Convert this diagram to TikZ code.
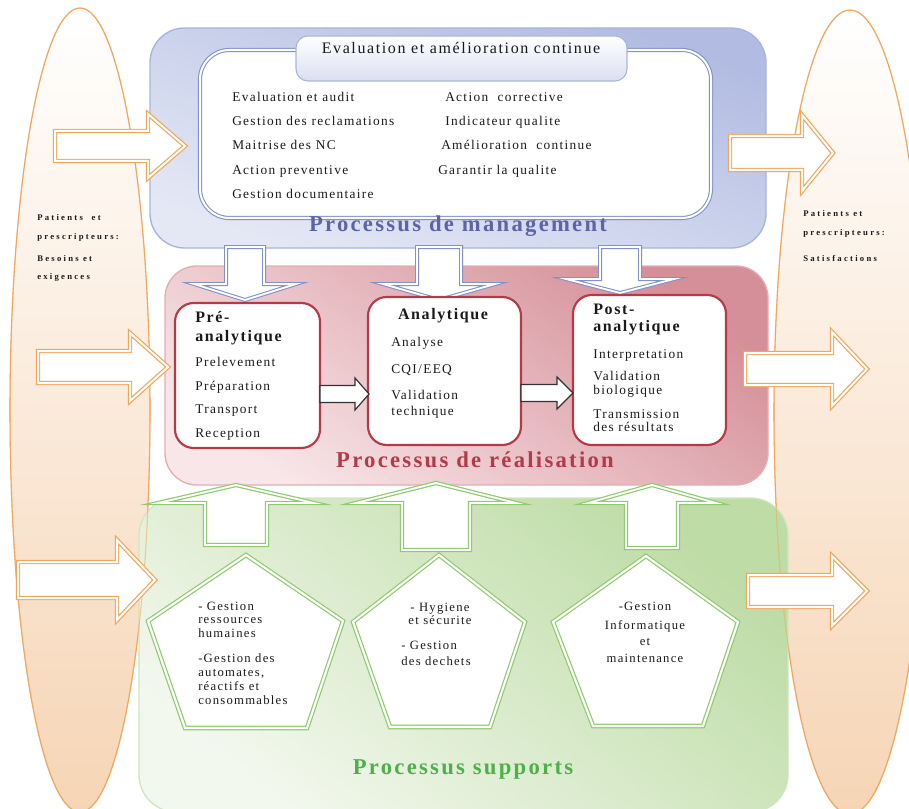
\documentclass[tikz,border=0pt]{standalone}
\usepackage{fontspec}
\setmainfont{Liberation Serif}[LetterSpace=10]
\definecolor{orgL}{HTML}{F2A65A}
\definecolor{peach}{HTML}{F6D5B5}
\definecolor{cream}{HTML}{FCF4EA}
\definecolor{bluB}{HTML}{8290CC}
\definecolor{bluT}{HTML}{B2BCE2}
\definecolor{bluL}{HTML}{E4E8F5}
\definecolor{bluE}{HTML}{A9B4DC}
\definecolor{pnkT}{HTML}{D58F98}
\definecolor{pnkL}{HTML}{F8E6E8}
\definecolor{pnkE}{HTML}{E2AEB4}
\definecolor{redB}{HTML}{B53A48}
\definecolor{grnB}{HTML}{8FCB6E}
\definecolor{grnT}{HTML}{BEDCA6}
\definecolor{grnL}{HTML}{F3F8EE}
\definecolor{grnE}{HTML}{CFE6C0}
\definecolor{ttlB}{HTML}{5C64A6}
\definecolor{ttlR}{HTML}{B23A4A}
\definecolor{ttlG}{HTML}{4DB04A}
\definecolor{txt}{HTML}{1A1A1A}
% right-pointing block arrow: tail x, head base x, tip x, centre y, shaft half, head half
\newcommand\ArrR[6]{(#1,#4-#5) -- (#2,#4-#5) -- (#2,#4-#6) -- (#3,#4) -- (#2,#4+#6) -- (#2,#4+#5) -- (#1,#4+#5) -- cycle}
% vertical block arrow: centre x, tail y, head base y, tip y, shaft half, head half
\newcommand\ArrV[6]{(#1-#5,#2) -- (#1-#5,#3) -- (#1-#6,#3) -- (#1,#4) -- (#1+#6,#3) -- (#1+#5,#3) -- (#1+#5,#2) -- cycle}
\tikzset{
  oarrow/.style={draw=orgL, line width=0.9pt, double=white, double distance=1.5pt, fill=white, line join=miter},
  barrow/.style={draw=bluB, line width=0.8pt, double=white, double distance=1.4pt, fill=white},
  garrow/.style={draw=grnB, line width=0.9pt, double=white, double distance=1.4pt, fill=white},
  karrow/.style={draw=black!80, line width=0.9pt, fill=white},
  penta/.style={draw=grnB, line width=0.9pt, double=white, double distance=1.6pt, fill=white},
  redbox/.style={draw=redB, line width=1.6pt, fill=white, rounded corners=14},
  txtw/.style={anchor=base west, inner sep=0, yshift=-2.4pt},
  txtc/.style={anchor=base, inner sep=0, yshift=-2.4pt},
  item/.style={txtw, text=txt, font=\fontsize{10}{12}\selectfont},
  pitem/.style={inner sep=0, text=txt, font=\fontsize{9.5}{11}\selectfont},
  head/.style={inner sep=0, text=txt, font=\fontsize{12}{14}\selectfont\bfseries},
  big/.style={txtc, yshift=-1.6pt, font=\fontsize{17}{20}\selectfont\bfseries},
  side/.style={txtw, yshift=0.9pt, text=txt, font=\fontsize{6.5}{8}\selectfont\bfseries\addfontfeature{LetterSpace=26}},
}
\begin{document}
\begin{tikzpicture}[x=0.75pt, y=-0.75pt]
\useasboundingbox (0,0) rectangle (909,809);
\fill[white] (0,0) rectangle (909,809);

% side ellipses
\shade[top color=white, middle color=cream, bottom color=peach] (80,410) ellipse [x radius=70, y radius=402];
\shade[top color=white, middle color=cream, bottom color=peach] (850,412) ellipse [x radius=76, y radius=402];
\draw[orgL, line width=0.8pt] (80,410) ellipse [x radius=70, y radius=402];
\draw[orgL, line width=0.8pt] (850,412) ellipse [x radius=76, y radius=402];

% three process areas
\path[draw=bluE, line width=1pt, rounded corners=26, top color=bluT, bottom color=bluL, shading angle=-20] (150,28) rectangle (766,248);
\path[draw=pnkE, line width=1pt, rounded corners=24, top color=pnkT, bottom color=pnkL, shading angle=-35] (165,266) rectangle (768,485);
\path[draw=grnE, line width=1pt, rounded corners=28, top color=grnT, bottom color=grnL, shading angle=-40] (139,498) rectangle (788,812);

% ellipse borders faintly over boxes
\draw[orgL, line width=0.8pt, opacity=0.55] (80,410) ellipse [x radius=70, y radius=402];
\draw[orgL, line width=0.8pt, opacity=0.55] (850,412) ellipse [x radius=76, y radius=402];

% management inner box and title tab
\draw[draw=bluB, line width=0.8pt, double=white, double distance=1.5pt, fill=white, rounded corners=22] (200,50) rectangle (711,218);
\path[draw=bluE, line width=0.8pt, rounded corners=9, top color=white, bottom color=bluL!80!bluT] (296,36) rectangle (627,81);
\node[txtc, text=txt, font=\fontsize{12}{14}\selectfont] (ttl) at (461,50) {Evaluation et amélioration continue};

\node[item] (m1) at (232,98) {Evaluation et audit};
\node[item] (m2) at (232,122) {Gestion des reclamations};
\node[item] (m3) at (232,146) {Maitrise des NC};
\node[item] (m4) at (232,171) {Action preventive};
\node[item] (m5) at (232,195) {Gestion documentaire};
\node[item] (m6) at (445,98) {Action\ \ corrective};
\node[item] (m7) at (445,122) {Indicateur qualite};
\node[item] (m8) at (441,146) {Amélioration\ \ continue};
\node[item] (m9) at (438,171) {Garantir la qualite};
\node[big, text=ttlB] (tM) at (458,226) {Processus de management};

% blue arrows down
\draw[barrow] \ArrV{245}{247}{284}{300}{19}{51};
\draw[barrow] \ArrV{439}{247}{284}{300}{22}{56};
\draw[barrow] \ArrV{620}{247}{279}{293}{20}{54};

% realisation boxes
\draw[redbox] (175,303) rectangle (320,448);
\draw[redbox] (368,297) rectangle (521,445);
\draw[redbox] (573,295) rectangle (726,445);

\node[head, txtw, yshift=-0.6pt] (b1a) at (195,318) {Pré-};
\node[head, txtw, yshift=-0.6pt] (b1b) at (195,337) {analytique};
\node[item] (b1c) at (195,363) {Prelevement};
\node[item] (b1d) at (195,387) {Préparation};
\node[item] (b1e) at (195,410) {Transport};
\node[item] (b1f) at (195,434) {Reception};

\node[head, txtc, yshift=-0.6pt] (b2a) at (443,315) {Analytique};
\node[item] (b2b) at (391,343) {Analyse};
\node[item] (b2c) at (391,370) {CQI/EEQ};
\node[item] (b2d) at (391,396) {Validation};
\node[item] (b2e) at (391,412) {technique};

\node[head, txtw, yshift=-0.6pt] (b3a) at (593,310) {Post-};
\node[head, txtw, yshift=-0.6pt] (b3b) at (593,327) {analytique};
\node[item] (b3c) at (593,355) {Interpretation};
\node[item] (b3d) at (593,377) {Validation};
\node[item] (b3e) at (593,391) {biologique};
\node[item] (b3f) at (593,415) {Transmission};
\node[item] (b3g) at (593,428) {des résultats};

\draw[karrow] \ArrR{320}{355}{369}{394}{8.5}{16};
\draw[karrow] \ArrR{521}{557}{573}{393}{8.5}{16};

\node[big, text=ttlR] (tR) at (475,462) {Processus de réalisation};

% green arrows up
\draw[garrow] \ArrV{236}{545}{503}{485}{31}{78};
\draw[garrow] \ArrV{436}{550}{503}{483}{34}{80};
\draw[garrow] \ArrV{652}{548}{503}{485}{26}{64};

% pentagons
\draw[penta] (246,555) -- (343,621) -- (307,728) -- (185,728) -- (148,621) -- cycle;
\draw[penta] (439,555) -- (525,622) -- (490,727) -- (390,727) -- (353,622) -- cycle;
\draw[penta] (646,556) -- (738,622) -- (703,726) -- (593,726) -- (553,622) -- cycle;

\node[pitem, txtw, yshift=-0.2pt] (p1a) at (198,607) {- Gestion};
\node[pitem, txtw, yshift=-0.2pt] (p1b) at (198,620) {ressources};
\node[pitem, txtw, yshift=-0.2pt] (p1c) at (198,634) {humaines};
\node[pitem, txtw, yshift=-0.2pt] (p1d) at (198,659) {-Gestion des};
\node[pitem, txtw, yshift=-0.2pt] (p1e) at (198,673) {automates,};
\node[pitem, txtw, yshift=-0.2pt] (p1f) at (198,687) {réactifs et};
\node[pitem, txtw, yshift=-0.2pt] (p1g) at (198,701) {consommables};

\node[pitem, txtc, yshift=-0.2pt] (p2a) at (440,608) {- Hygiene};
\node[pitem, txtc, yshift=-0.2pt] (p2b) at (440,621) {et sécurite};
\node[pitem, txtw, yshift=-0.2pt] (p2c) at (401,646) {- Gestion};
\node[pitem, txtw, yshift=-0.2pt] (p2d) at (401,662) {des dechets};

\node[pitem, txtc, yshift=-0.2pt] (p3a) at (645,607) {-Gestion};
\node[pitem, txtc, yshift=-0.2pt] (p3b) at (645,626) {Informatique};
\node[pitem, txtc, yshift=-0.2pt] (p3c) at (645,642) {et};
\node[pitem, txtc, yshift=-0.2pt] (p3d) at (645,659) {maintenance};

\node[big, text=ttlG] (tS) at (463,769) {Processus supports};

% orange arrows
\draw[oarrow] \ArrR{55}{148}{185}{146}{15}{32};
\draw[oarrow] \ArrR{38}{130}{168}{367}{16}{34};
\draw[oarrow] \ArrR{18}{117}{155}{580}{18}{40};
\draw[oarrow] \ArrR{730}{802}{833}{153}{17}{38};
\draw[oarrow] \ArrR{745}{832}{867}{369}{16}{37};
\draw[oarrow] \ArrR{748}{832}{867}{591}{16}{35};

% side texts
\node[side] (l1) at (37,218) {Patients\ \ et};
\node[side] (l2) at (37,237) {prescripteurs:};
\node[side] (l3) at (37,260) {Besoins et};
\node[side] (l4) at (37,277) {exigences};
\node[side] (r1) at (803,215) {Patients et};
\node[side] (r2) at (803,233) {prescripteurs:};
\node[side] (r3) at (803,259) {Satisfactions};
\end{tikzpicture}
\end{document}
